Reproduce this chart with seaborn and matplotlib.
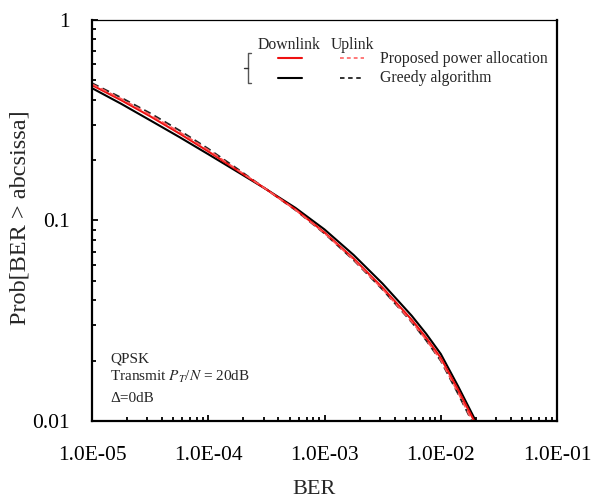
import numpy as np
import pandas as pd
import seaborn as sns
import matplotlib.pyplot as plt

# BER values (x) and Prob[BER > abscissa]
ber = [1e-5, 1.78e-5, 3.16e-5, 5.62e-5, 1e-4, 1.78e-4, 3.16e-4, 5.62e-4,
       1e-3, 1.78e-3, 3.16e-3, 5.62e-3, 7.5e-3, 1e-2, 1.41e-2, 2e-2]
proposed_down = [0.473, 0.398, 0.331, 0.272, 0.221, 0.178, 0.143, 0.1135,
                 0.0871, 0.0646, 0.0462, 0.0320, 0.0260, 0.02065, 0.01429, 0.00966]
proposed_up = [0.479, 0.405, 0.337, 0.277, 0.225, 0.179, 0.143, 0.113,
               0.0863, 0.0637, 0.0454, 0.03126, 0.02535, 0.02009, 0.0138, 0.00923]
greedy_down = [0.457, 0.382, 0.316, 0.261, 0.214, 0.175, 0.143, 0.1156,
               0.0902, 0.0673, 0.0484, 0.0335, 0.0272, 0.0216, 0.0149, 0.0100]
greedy_up = [0.484, 0.410, 0.343, 0.282, 0.228, 0.181, 0.143, 0.1127,
             0.0861, 0.0634, 0.0452, 0.0311, 0.0252, 0.01995, 0.01365, 0.00912]

x_ticks = [1e-5, 1e-4, 1e-3, 1e-2, 1e-1]
x_tick_labels = ["1.0E-05", "1.0E-04", "1.0E-03", "1.0E-02", "1.0E-01"]
y_ticks = [0.01, 0.1, 1]
y_tick_labels = ["0.01", "0.1", "1"]

curves = {
    "greedy_down": greedy_down,
    "greedy_up": greedy_up,
    "proposed_down": proposed_down,
    "proposed_up": proposed_up,
}
df = pd.concat(
    [pd.DataFrame({"BER": ber, "Prob": v, "Curve": k}) for k, v in curves.items()],
    ignore_index=True,
)

styles = {
    "greedy_down": dict(color="black", linestyle="-", linewidth=1.5),
    "greedy_up": dict(color="#222222", linestyle=(0, (4, 2.5)), linewidth=1.3),
    "proposed_down": dict(color="#ee1111", linestyle="-", linewidth=1.5),
    "proposed_up": dict(color="#ff5555", linestyle=(0, (4, 2.5)), linewidth=1.1),
}

sns.set_style("ticks")
plt.rcParams["font.family"] = ["Liberation Serif", "DejaVu Serif"]
plt.rcParams["mathtext.fontset"] = "stix"

fig = plt.figure(figsize=(5.91, 4.99), dpi=100)
ax = fig.add_axes([0.1557, 0.1563, 0.7868, 0.8037])

for name in curves:
    sns.lineplot(data=df[df["Curve"] == name], x="BER", y="Prob", ax=ax,
                 legend=False, **styles[name])

ax.set_xscale("log")
ax.set_yscale("log")
ax.set_xlim(1e-5, 1e-1)
ax.set_ylim(0.01, 1)
ax.set_xticks(x_ticks)
ax.set_xticklabels(x_tick_labels)
ax.set_yticks(y_ticks)
ax.set_yticklabels(y_tick_labels)
ax.tick_params(which="both", direction="in", top=False, right=False,
               labelsize=15.5, colors="black", width=1.3)
ax.tick_params(which="major", length=4.5)
ax.tick_params(which="minor", length=3)
ax.tick_params(axis="x", which="major", pad=18)
ax.tick_params(axis="y", which="major", pad=16)

ax.set_xlabel("BER", fontsize=16)
ax.set_ylabel("Prob[BER > abcsissa]", fontsize=17.5)
ax.xaxis.set_label_coords((314 - 92) / 465, (421 - 489) / 401)
ax.xaxis.label.set_va("center")
ax.yaxis.set_label_coords((20 - 92) / 465, (421 - 218) / 401)
ax.yaxis.label.set_va("center")

for side in ["left", "bottom", "right"]:
    ax.spines[side].set_linewidth(1.6)
ax.spines["top"].set_linewidth(0.9)
for s in ax.spines.values():
    s.set_color("black")

# hand-made legend
tr = ax.transAxes
def ax_xy(px, py):
    return (px - 92) / 465, (421 - py) / 401

fs = 11.3
ax.text(*ax_xy(258, 45), "Downlink", transform=tr, fontsize=fs, va="center")
ax.text(*ax_xy(331, 45), "Uplink", transform=tr, fontsize=fs, va="center")
ax.text(*ax_xy(380, 59), "Proposed power allocation", transform=tr, fontsize=fs, va="center")
ax.text(*ax_xy(380, 78), "Greedy algorithm", transform=tr, fontsize=fs, va="center")
for py, down, up in [(58, "proposed_down", "proposed_up"), (78, "greedy_down", "greedy_up")]:
    x0, y0 = ax_xy(278, py)
    x1, _ = ax_xy(302, py)
    ax.plot([x0, x1], [y0, y0], transform=tr, **styles[down])
    x0, _ = ax_xy(340, py)
    x1, _ = ax_xy(364, py)
    st = dict(styles[up])
    st["linestyle"] = (0, (2.5, 2))
    ax.plot([x0, x1], [y0, y0], transform=tr, **st)

# bracket
bx = [ax_xy(251, 53), ax_xy(248, 53), ax_xy(248, 83), ax_xy(251, 83)]
ax.plot([p[0] for p in bx], [p[1] for p in bx], transform=tr, color="#555555", linewidth=1)
m0, m1 = ax_xy(244, 68), ax_xy(248, 68)
ax.plot([m0[0], m1[0]], [m0[1], m1[1]], transform=tr, color="#333333", linewidth=1)

# annotation
afs = 11
ax.text(*ax_xy(110, 359), "QPSK", transform=tr, fontsize=afs, va="center")
ax.text(*ax_xy(110, 377), r"Transmit $P_T$/$N$ = 20dB", transform=tr, fontsize=afs, va="center")
ax.text(*ax_xy(110, 398), "Δ=0dB", transform=tr, fontsize=afs, va="center")

fig.savefig("out.png", dpi=100)
